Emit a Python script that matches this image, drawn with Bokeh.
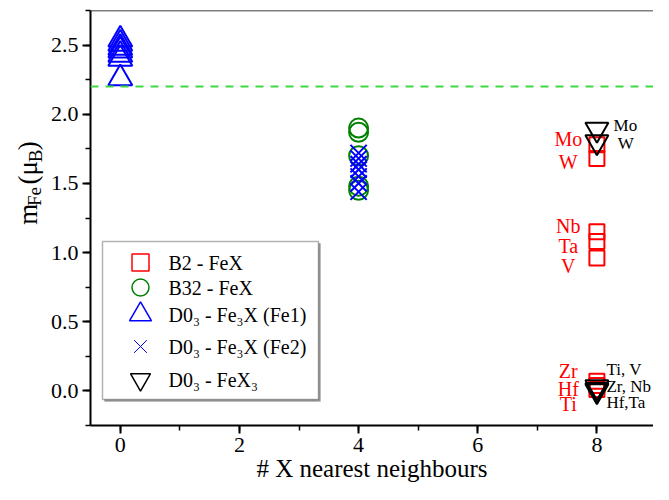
from math import pi
from bokeh.plotting import figure
from bokeh.layouts import row
from bokeh.models import (Range1d, SingleIntervalTicker, PrintfTickFormatter, Span,
                          BoxAnnotation)
from bokeh.core.properties import value
from bokeh.embed import file_html
from bokeh.resources import INLINE

# ---------------- data ----------------
b2_x = [8, 8, 8, 8, 8, 8, 8, 8]
b2_m = [1.78, 1.68, 1.15, 1.08, 0.96, 0.07, 0.04, 0.01]

b32_x = [4, 4, 4, 4, 4]
b32_m = [1.90, 1.87, 1.70, 1.48, 1.45]

d03_fe1_x = [0, 0, 0, 0, 0, 0, 0]
d03_fe1_m = [2.54, 2.51, 2.48, 2.46, 2.43, 2.40, 2.26]

d03_fe2_x = [4, 4, 4, 4, 4, 4, 4]
d03_fe2_m = [1.72, 1.68, 1.64, 1.60, 1.55, 1.50, 1.44]

d03_fex3_x = [8, 8, 8, 8, 8]
d03_fex3_m = [1.89, 1.80, 0.03, 0.01, 0.00]

bulk_fe_moment = 2.2

red_labels = ["Mo", "W", "Nb", "Ta", "V", "Zr", "Hf", "Ti"]
black_labels = ["Mo", "W", "Ti, V", "Zr, Nb", "Hf,Ta"]

legend_labels = ["B2 - FeX", "B32 - FeX", "D0\u2083 - Fe\u2083X (Fe1)",
                 "D0\u2083 - Fe\u2083X (Fe2)", "D0\u2083 - FeX\u2083"]

x_title = "# X nearest neighbours"

FONT = "Liberation Serif"

# ---------------- layout geometry (pixels) ----------------
YLAB_W = 47
H = 484
FRAME_LEFT = 90          # picture x of the left axis
FRAME_RIGHT = 653
MAIN_W = FRAME_RIGHT - YLAB_W
FRAME_TOP = 10
FRAME_BOTTOM = 425       # estimated (bokeh computes the bottom axis panel)
X0, X1 = -0.5, 8.95
Y0, Y1 = -0.25, 2.75


def dx(px):
    return X0 + (px - FRAME_LEFT) * (X1 - X0) / (FRAME_RIGHT - FRAME_LEFT)


def dy(py):
    return Y1 - (py - FRAME_TOP) * (Y1 - Y0) / (FRAME_BOTTOM - FRAME_TOP)


# ---------------- annotation positions ----------------
red_lab_x = [7.52] * 8
red_lab_y = [1.818, 1.653, 1.189, 1.049, 0.902, 0.147, 0.017, -0.098]
blk_lab_x = [8.28, 8.35, 8.16, 8.16, 8.16]
blk_lab_y = [1.916, 1.79, 0.154, 0.035, -0.084]

p = figure(width=MAIN_W, height=H, x_range=Range1d(X0, X1), y_range=Range1d(Y0, Y1),
           output_backend="svg", toolbar_location=None,
           min_border_left=FRAME_LEFT - YLAB_W, min_border_right=0,
           min_border_top=FRAME_TOP, min_border_bottom=0)
p.outline_line_color = None
p.xgrid.grid_line_color = None
p.ygrid.grid_line_color = None
p.background_fill_color = "white"
p.border_fill_color = "white"

p.xaxis.ticker = SingleIntervalTicker(interval=2, num_minor_ticks=2)
p.yaxis.ticker = SingleIntervalTicker(interval=0.5, num_minor_ticks=2)
p.yaxis.formatter = PrintfTickFormatter(format="%.1f")

for ax in (p.xaxis[0], p.yaxis[0]):
    ax.axis_line_width = 2
    ax.axis_line_color = "black"
    ax.major_tick_line_width = 2
    ax.minor_tick_line_width = 1.5
    ax.major_tick_line_color = "black"
    ax.minor_tick_line_color = "black"
    ax.major_tick_out = 8
    ax.major_tick_in = 0
    ax.minor_tick_out = 5
    ax.minor_tick_in = 0
    ax.major_label_text_font = FONT
    ax.major_label_text_font_size = "22px"
    ax.major_label_text_color = "black"
    ax.major_label_standoff = 4

p.xaxis.axis_label = x_title
p.xaxis.axis_label_text_font = FONT
p.xaxis.axis_label_text_font_size = "25px"
p.xaxis.axis_label_text_font_style = "normal"
p.xaxis.axis_label_text_color = "black"
p.xaxis.axis_label_standoff = 0

# top frame line and reference line
p.add_layout(Span(location=p.y_range.end, dimension="width", line_color="black", line_width=1.5))
p.add_layout(Span(location=bulk_fe_moment, dimension="width", line_color="#40d840",
                  line_width=2, line_dash="8 7"))

# ---------------- legend (drawn by hand to get the reference's sizes) ----------------
lg_left, lg_right, lg_top, lg_bottom = 102, 318, 241, 399
lg_rows = [lg_top + o for o in (21, 46, 73, 105, 138)]
p.add_layout(BoxAnnotation(left=dx(lg_left + 2), right=dx(lg_right + 2),
                           top=dy(lg_top + 2), bottom=dy(lg_bottom + 2),
                           fill_color="#9a9a9a", fill_alpha=1.0, line_color="#9a9a9a",
                           line_width=1, level="underlay"))
p.add_layout(BoxAnnotation(left=dx(lg_left), right=dx(lg_right),
                           top=dy(lg_top), bottom=dy(lg_bottom),
                           fill_color="white", fill_alpha=1.0, line_color="black",
                           line_width=1.5, level="underlay"))

lg_specs = [("square", 17, "red", 1.5), ("circle", 17, "green", 1.5),
            ("triangle", 22, "blue", 1.5), ("x", 18, "blue", 1.0),
            ("inverted_triangle", 20, "black", 1.5)]
for (mk, sz, col, lw), ry in zip(lg_specs, lg_rows):
    p.scatter([dx(140)], [dy(ry)], marker=mk, size=sz, fill_color=None,
              line_color=col, line_width=lw)
p.text(x=[dx(168)] * len(legend_labels), y=[dy(ry) for ry in lg_rows], text=legend_labels,
       text_font=value(FONT), text_font_size="20px", text_color="black",
       text_align="left", text_baseline="middle")

# ---------------- data marks ----------------
p.scatter(b2_x, b2_m, marker="square", size=15, fill_color=None,
          line_color="red", line_width=2)
p.scatter(b32_x, b32_m, marker="circle", size=19, fill_color=None,
          line_color="green", line_width=2)
p.scatter(d03_fe1_x, d03_fe1_m, marker="triangle", size=24, fill_color=None,
          line_color="blue", line_width=2)
p.scatter(d03_fe2_x, d03_fe2_m, marker="x", size=23,
          line_color="blue", line_width=2)
p.scatter(d03_fex3_x, d03_fex3_m, marker="inverted_triangle", size=23, fill_color=None,
          line_color="black", line_width=2)

p.text(x=red_lab_x, y=red_lab_y, text=red_labels, text_color="red",
       text_font=value(FONT), text_font_size="20px", text_align="center",
       text_baseline="middle")
p.text(x=blk_lab_x, y=blk_lab_y, text=black_labels, text_color="black",
       text_font=value(FONT), text_font_size="17px", text_align="left",
       text_baseline="middle")

# ---------------- y axis title: m_Fe (mu_B) ----------------
ylab = figure(width=YLAB_W, height=H, x_range=Range1d(0, YLAB_W), y_range=Range1d(0, H),
              x_axis_type=None, y_axis_type=None, output_backend="svg",
              toolbar_location=None, min_border_left=0, min_border_right=0,
              min_border_top=0, min_border_bottom=0)
ylab.outline_line_color = None
ylab.background_fill_color = "white"
ylab.border_fill_color = "white"
# (text, font size, baseline x, start y) in picture pixels
y_pieces = [("m", "27px", 27, 250), ("Fe", "19px", 34, 228), ("(\u03bc", "27px", 27, 203),
            ("B", "19px", 35, 177), (")", "27px", 27, 163)]
for txt, fs, bx, sy in y_pieces:
    ylab.text(x=[bx], y=[H - sy], text=[txt], angle=pi / 2, text_font=value(FONT),
              text_font_size=fs, text_color="black", text_align="left",
              text_baseline="alphabetic")

layout = row(ylab, p)
open("out.html", "w").write(file_html(layout, INLINE))
